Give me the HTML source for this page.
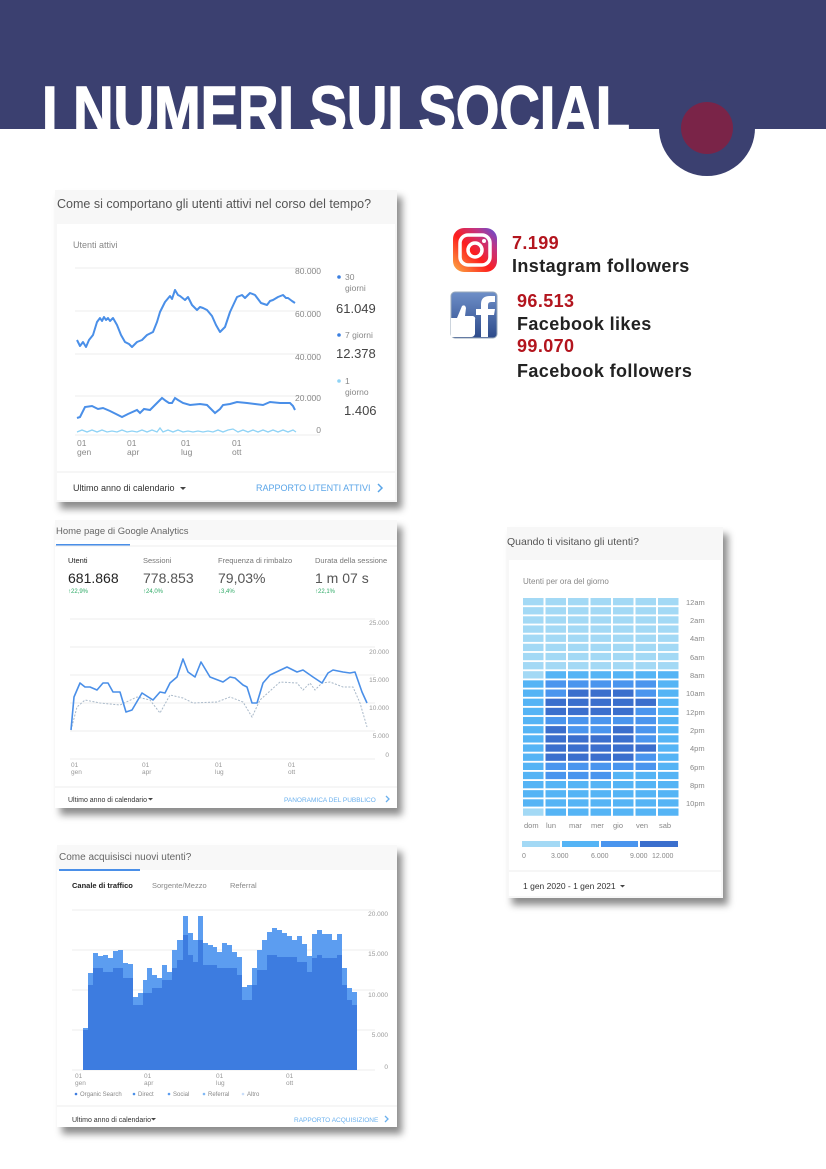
<!DOCTYPE html>
<html><head><meta charset="utf-8">
<style>
*{margin:0;padding:0;box-sizing:border-box}
body{width:826px;height:1169px;background:#fff;position:relative;overflow:hidden;font-family:"Liberation Sans",sans-serif}
.card{position:absolute;background:#fff;box-shadow:5px 7px 7px rgba(0,0,0,0.45)}
.t{position:absolute;white-space:nowrap}
.big{font-weight:bold;color:#222;font-size:18px;letter-spacing:0.4px}
.red{font-weight:bold;color:#b3151e;font-size:18px;letter-spacing:0.4px}
</style></head><body>
<svg width="826" height="200" style="position:absolute;left:0;top:0">
<rect x="0" y="0" width="826" height="129" fill="#3b4070"/>
<circle cx="707" cy="128" r="48" fill="#3b4070"/>
<circle cx="707" cy="128" r="26" fill="#7a2448"/>
<text x="42" y="133" fill="#fff" stroke="#fff" stroke-width="1.5" font-family="Liberation Sans" font-weight="bold" font-size="67" textLength="588" lengthAdjust="spacingAndGlyphs">I NUMERI SUI SOCIAL</text>
</svg>

<!-- Card 1 -->
<div class="card" style="left:55px;top:190px;width:342px;height:312px;background:#f7f7f7">
<div style="position:absolute;left:2px;top:34px;width:338px;height:276px;background:#fff"></div>
</div>
<svg width="826" height="1169" style="position:absolute;left:0;top:0" font-family="Liberation Sans">
<text x="57" y="208" font-size="12.5" fill="#555">Come si comportano gli utenti attivi nel corso del tempo?</text>
<text x="73" y="248" font-size="9" fill="#888">Utenti attivi</text>
<g stroke="#eee" stroke-width="1">
<line x1="75" y1="268" x2="320" y2="268"/><line x1="75" y1="311" x2="320" y2="311"/><line x1="75" y1="354" x2="320" y2="354"/><line x1="75" y1="396" x2="320" y2="396"/><line x1="75" y1="435" x2="320" y2="435"/>
</g>
<g font-size="8.5" fill="#888" text-anchor="end">
<text x="321" y="274">80.000</text><text x="321" y="317">60.000</text><text x="321" y="360">40.000</text><text x="321" y="401">20.000</text><text x="321" y="433">0</text>
</g>
<polyline fill="none" stroke="#4a8fe8" stroke-width="2" stroke-linejoin="round" points="77,340 80,346 83,342 86,347 89,340 93,335 97,322 100,318 102,321 104,317 106,320 108,318 110,321 113,318 117,325 121,335 125,342 129,344 132,347 137,342 142,340 147,335 153,332 157,322 160,312 165,302 170,296 172,299 175,290 178,295 180,296 185,300 188,297 192,305 197,310 200,307 203,308 207,310 212,316 216,325 220,332 225,327 230,312 237,297 242,295 245,298 250,293 255,295 258,299 261,303 267,305 270,301 273,300 278,297 283,295 286,298 288,298 292,301 295,303"/>
<polyline fill="none" stroke="#4a8fe8" stroke-width="2" points="77,418 80,417 85,407 92,406 98,409 103,408 110,411 116,414 122,417 128,414 137,410 140,413 144,409 150,410 156,404 162,398 166,401 169,403 172,403 175,398 178,400 183,403 190,405 200,404 207,405 212,410 215,413 220,409 223,405 230,404 237,402 247,403 255,404 263,405 270,402 280,403 290,403 293,406 295,410"/>
<polyline fill="none" stroke="#8fd3f5" stroke-width="1.3" points="77,432 82,430 87,432 92,430 97,432 102,430 107,432 112,431 117,432 122,430 127,432 132,431 137,432 142,430 147,432 152,430 157,432 160,428 163,432 168,430 173,432 178,430 183,432 188,431 193,432 198,431 203,432 208,431 213,432 218,430 223,432 228,430 233,429 238,432 243,430 248,432 253,430 258,432 263,430 268,432 273,430 278,432 283,430 288,432 293,430 296,432"/>
<g font-size="8.5" fill="#888">
<text x="77" y="446">01</text><text x="77" y="455">gen</text>
<text x="127" y="446">01</text><text x="127" y="455">apr</text>
<text x="181" y="446">01</text><text x="181" y="455">lug</text>
<text x="232" y="446">01</text><text x="232" y="455">ott</text>
</g>
<circle cx="339" cy="277" r="1.8" fill="#3b7fe0"/><text x="345" y="280" font-size="8.5" fill="#888">30</text><text x="345" y="291" font-size="8.5" fill="#888">giorni</text>
<text x="336" y="313" font-size="13" fill="#444">61.049</text>
<circle cx="339" cy="335" r="1.8" fill="#3b7fe0"/><text x="345" y="338" font-size="8.5" fill="#888">7 giorni</text>
<text x="336" y="358" font-size="13" fill="#444">12.378</text>
<circle cx="339" cy="381" r="1.8" fill="#8fd3f5"/><text x="345" y="384" font-size="8.5" fill="#888">1</text><text x="345" y="395" font-size="8.5" fill="#888">giorno</text>
<text x="344" y="415" font-size="13" fill="#444">1.406</text>
<line x1="57" y1="472" x2="395" y2="472" stroke="#eee"/>
<text x="73" y="491" font-size="9" fill="#333">Ultimo anno di calendario</text><path d="M180,487 l6,0 l-3,3z" fill="#444"/>
<text x="256" y="491" font-size="9" fill="#5aa5e8">RAPPORTO UTENTI ATTIVI</text>
<path d="M378,484 l4,4 l-4,4" fill="none" stroke="#5aa5e8" stroke-width="1.5"/>
</svg>

<!-- Social stats -->
<svg width="60" height="130" style="position:absolute;left:445px;top:222px">
<defs><linearGradient id="ig" x1="0" y1="1" x2="1" y2="0"><stop offset="0" stop-color="#fcb045"/><stop offset="0.45" stop-color="#fd1d1d"/><stop offset="0.75" stop-color="#c13584"/><stop offset="1" stop-color="#5851db"/></linearGradient>
<linearGradient id="fb" x1="0" y1="0" x2="0" y2="1"><stop offset="0" stop-color="#6e8fc8"/><stop offset="1" stop-color="#2d4a8a"/></linearGradient></defs>
<rect x="8" y="6" width="44" height="44" rx="11" fill="url(#ig)"/>
<rect x="15" y="13" width="30" height="30" rx="8" fill="none" stroke="#fff" stroke-width="3.5"/>
<circle cx="30" cy="28" r="7" fill="none" stroke="#fff" stroke-width="3.5"/>
<circle cx="39" cy="19" r="2" fill="#fff"/>
<rect x="6" y="70" width="46" height="46" rx="4" fill="url(#fb)" stroke="#9ab" stroke-width="1"/>
<path d="M36,115 l0,-22 l-5,0 l0,-6 l5,0 l0,-5 q0,-8 9,-8 l5,0 l0,6 l-4,0 q-3,0 -3,3 l0,4 l7,0 l-1,6 l-6,0 l0,22z" fill="#fff"/>
<path d="M6,96 l6,0 l5,-12 q3,-2 4,2 l-1,8 l8,0 q3,1 2,4 l0,14 q-1,3 -4,3 l-14,0 l-6,0z" fill="#fff"/>
</svg>
<div class="t red" style="left:512px;top:233px">7.199</div>
<div class="t big" style="left:512px;top:256px">Instagram followers</div>
<div class="t red" style="left:517px;top:291px">96.513</div>
<div class="t big" style="left:517px;top:314px">Facebook likes</div>
<div class="t red" style="left:517px;top:336px">99.070</div>
<div class="t big" style="left:517px;top:361px">Facebook followers</div>

<!-- Card 2 -->
<div class="card" style="left:55px;top:520px;width:342px;height:288px;background:#fff"></div>
<!-- Card 3 -->
<div class="card" style="left:57px;top:845px;width:340px;height:282px;background:#fff"></div>
<!-- Card 4 -->
<div class="card" style="left:507px;top:527px;width:216px;height:371px;background:#f7f7f7">
<div style="position:absolute;left:2px;top:33px;width:212px;height:336px;background:#fff"></div>
</div>

<svg width="826" height="1169" style="position:absolute;left:0;top:0" font-family="Liberation Sans">
<!-- card 2 -->
<rect x="55" y="520" width="342" height="20" fill="#f8f8f8"/>
<text x="56" y="534" font-size="9.5" fill="#666">Home page di Google Analytics</text>
<rect x="56" y="544" width="74" height="2" fill="#4a8fe8"/>
<line x1="55" y1="546" x2="397" y2="546" stroke="#eee"/>
<g font-size="7.5" fill="#777"><text x="68" y="563" fill="#222">Utenti</text><text x="143" y="563">Sessioni</text><text x="218" y="563">Frequenza di rimbalzo</text><text x="315" y="563">Durata della sessione</text></g>
<g font-size="14" fill="#555"><text x="68" y="583" fill="#222">681.868</text><text x="143" y="583">778.853</text><text x="218" y="583">79,03%</text><text x="315" y="583">1 m 07 s</text></g>
<g font-size="6" fill="#2eaa66"><text x="68" y="593">↑22,9%</text><text x="143" y="593">↑24,0%</text><text x="218" y="593">↓3,4%</text><text x="315" y="593">↑22,1%</text></g>
<g stroke="#eee"><line x1="70" y1="619" x2="375" y2="619"/><line x1="70" y1="647" x2="375" y2="647"/><line x1="70" y1="675" x2="375" y2="675"/><line x1="70" y1="703" x2="375" y2="703"/><line x1="70" y1="731" x2="375" y2="731"/><line x1="70" y1="759" x2="375" y2="759"/></g>
<g font-size="6.5" fill="#999" text-anchor="end"><text x="389" y="625">25.000</text><text x="389" y="654">20.000</text><text x="389" y="682">15.000</text><text x="389" y="710">10.000</text><text x="389" y="738">5.000</text><text x="389" y="757">0</text></g>
<polyline fill="none" stroke="#a8b8c8" stroke-width="1" stroke-dasharray="2,1.5" points="71,730 77,707 85,700 100,703 120,705 137,697 150,700 160,713 170,695 183,698 193,703 217,702 230,697 243,702 252,717 260,700 280,682 297,683 303,690 310,683 315,690 322,683 330,682 343,687 353,687 360,703 367,727"/>
<polyline fill="none" stroke="#4a8fe8" stroke-width="1.6" stroke-linejoin="round" points="71,730 74,697 80,683 85,687 90,687 97,690 103,683 108,683 113,692 120,692 126,712 132,710 142,693 153,700 160,692 165,693 170,683 177,677 183,659 188,672 195,677 201,662 210,677 223,682 230,677 235,678 243,685 247,687 252,703 257,703 263,683 270,675 287,667 297,672 303,670 313,677 322,683 328,673 333,670 343,672 350,673 355,672 362,692 367,703"/>
<g font-size="6.5" fill="#999"><text x="71" y="767">01</text><text x="71" y="774">gen</text><text x="142" y="767">01</text><text x="142" y="774">apr</text><text x="215" y="767">01</text><text x="215" y="774">lug</text><text x="288" y="767">01</text><text x="288" y="774">ott</text></g>
<line x1="55" y1="787" x2="397" y2="787" stroke="#eee"/>
<text x="68" y="802" font-size="7" fill="#333">Ultimo anno di calendario</text><path d="M148,798 l5,0 l-2.5,2.5z" fill="#444"/>
<text x="284" y="802" font-size="6.5" fill="#6ab0ee">PANORAMICA DEL PUBBLICO</text>
<path d="M386,796 l3,3 l-3,3" fill="none" stroke="#6ab0ee" stroke-width="1.3"/>

<!-- card 3 -->
<rect x="57" y="845" width="340" height="25" fill="#f8f8f8"/>
<text x="59" y="860" font-size="10" fill="#666">Come acquisisci nuovi utenti?</text>
<rect x="59" y="869" width="81" height="2" fill="#4a8fe8"/>
<g font-size="7.5" fill="#888"><text x="72" y="888" fill="#222" font-weight="bold">Canale di traffico</text><text x="152" y="888">Sorgente/Mezzo</text><text x="230" y="888">Referral</text></g>
<g stroke="#eee"><line x1="72" y1="910" x2="375" y2="910"/><line x1="72" y1="950" x2="375" y2="950"/><line x1="72" y1="990" x2="375" y2="990"/><line x1="72" y1="1030" x2="375" y2="1030"/><line x1="72" y1="1070" x2="375" y2="1070"/></g>
<polygon fill="#5c9df0" points="83,1070 83,1028 88,1028 88,973 93,973 93,953 98,953 98,956 103,956 103,955 108,955 108,958 113,958 113,951 118,951 118,950 123,950 123,963 128,963 128,964 133,964 133,997 138,997 138,993 143,993 143,980 147,980 147,968 152,968 152,975 157,975 157,978 162,978 162,965 167,965 167,972 172,972 172,950 177,950 177,940 183,940 183,916 188,916 188,933 193,933 193,940 198,940 198,916 203,916 203,943 208,943 208,945 213,945 213,947 217,947 217,952 222,952 222,943 227,943 227,945 232,945 232,952 237,952 237,957 242,957 242,987 247,987 247,985 252,985 252,968 257,968 257,950 262,950 262,940 267,940 267,932 272,932 272,928 277,928 277,930 282,930 282,933 287,933 287,936 292,936 292,940 297,940 297,936 302,936 302,944 307,944 307,956 312,956 312,934 317,934 317,930 322,930 322,934 332,934 332,940 337,940 337,934 342,934 342,968 347,968 347,988 352,988 352,992 357,992 357,1070"/>
<polygon fill="#3d7ce0" points="83,1070 83,1030 88,1030 88,985 93,985 93,968 103,968 103,972 113,972 113,968 123,968 123,978 133,978 133,1005 143,1005 143,993 152,993 152,988 162,988 162,980 172,980 172,968 177,968 177,960 183,960 183,935 188,935 188,955 193,955 193,962 198,962 198,940 203,940 203,965 217,965 217,968 237,968 237,975 242,975 242,1000 252,1000 252,985 257,985 257,970 267,970 267,955 277,955 277,957 297,957 297,962 307,962 307,972 312,972 312,958 317,958 317,955 322,955 322,958 337,958 337,955 342,955 342,985 347,985 347,1000 352,1000 352,1005 357,1005 357,1070"/>
<g font-size="6.5" fill="#999" text-anchor="end"><text x="388" y="916">20.000</text><text x="388" y="956">15.000</text><text x="388" y="997">10.000</text><text x="388" y="1037">5.000</text><text x="388" y="1069">0</text></g>
<g font-size="6.5" fill="#999"><text x="75" y="1078">01</text><text x="75" y="1085">gen</text><text x="144" y="1078">01</text><text x="144" y="1085">apr</text><text x="216" y="1078">01</text><text x="216" y="1085">lug</text><text x="286" y="1078">01</text><text x="286" y="1085">ott</text></g>
<g font-size="6" fill="#888"><circle cx="76" cy="1094" r="1.3" fill="#3d7ce0"/><text x="80" y="1096">Organic Search</text><circle cx="134" cy="1094" r="1.3" fill="#4a8fe8"/><text x="138" y="1096">Direct</text><circle cx="169" cy="1094" r="1.3" fill="#5c9df0"/><text x="173" y="1096">Social</text><circle cx="204" cy="1094" r="1.3" fill="#7fb8f5"/><text x="208" y="1096">Referral</text><circle cx="243" cy="1094" r="1.3" fill="#c9defa"/><text x="247" y="1096">Altro</text></g>
<line x1="57" y1="1106" x2="397" y2="1106" stroke="#eee"/>
<text x="72" y="1122" font-size="7" fill="#333">Ultimo anno di calendario</text><path d="M151,1118 l5,0 l-2.5,2.5z" fill="#444"/>
<text x="294" y="1122" font-size="6.5" fill="#6ab0ee">RAPPORTO ACQUISIZIONE</text>
<path d="M385,1116 l3,3 l-3,3" fill="none" stroke="#6ab0ee" stroke-width="1.3"/>

<!-- card 4 -->
<text x="507" y="545" font-size="10.5" fill="#555">Quando ti visitano gli utenti?</text>
<text x="523" y="584" font-size="8" fill="#888">Utenti per ora del giorno</text>
<g id="heat"></g>
<g font-size="7.5" fill="#888">
<text x="686" y="605">12am</text><text x="690" y="623">2am</text><text x="690" y="641">4am</text><text x="690" y="660">6am</text><text x="690" y="678">8am</text><text x="686" y="696">10am</text><text x="686" y="715">12pm</text><text x="690" y="733">2pm</text><text x="690" y="751">4pm</text><text x="690" y="770">6pm</text><text x="690" y="788">8pm</text><text x="686" y="806">10pm</text>
<text x="524" y="828">dom</text><text x="546" y="828">lun</text><text x="569" y="828">mar</text><text x="591" y="828">mer</text><text x="613" y="828">gio</text><text x="636" y="828">ven</text><text x="659" y="828">sab</text>
</g>
<rect x="522" y="841" width="38" height="6" fill="#a3d9f5"/><rect x="562" y="841" width="37" height="6" fill="#55b4f5"/><rect x="601" y="841" width="37" height="6" fill="#4a95ee"/><rect x="640" y="841" width="38" height="6" fill="#3b6fcd"/>
<g font-size="7" fill="#888"><text x="522" y="858">0</text><text x="551" y="858">3.000</text><text x="591" y="858">6.000</text><text x="630" y="858">9.000</text><text x="652" y="858">12.000</text></g>
<line x1="509" y1="871" x2="721" y2="871" stroke="#eee"/>
<text x="523" y="889" font-size="8.5" fill="#333">1 gen 2020 - 1 gen 2021</text><path d="M620,885 l5,0 l-2.5,2.5z" fill="#444"/>
</svg>
<script>
var rows=["0000000","0000000","0000000","0000000","0000000","0000000","0000000","0000000",
"0111111","1222221","1233321","1333331","1333321","1222221","1322321","1333321","1333331","1333321","1222221","1222111","1111111","1111111","1111111","0111111"];
var cols=["#a3d9f5","#55b4f5","#4a95ee","#3b6fcd"];
var g=document.getElementById("heat"),s="";
for(var r=0;r<24;r++)for(var c=0;c<7;c++){s+='<rect x="'+(523+c*22.5)+'" y="'+(598+r*9.15)+'" width="20.5" height="7.3" fill="'+cols[+rows[r][c]]+'"/>';}
g.innerHTML=s;
</script>
</body></html>
